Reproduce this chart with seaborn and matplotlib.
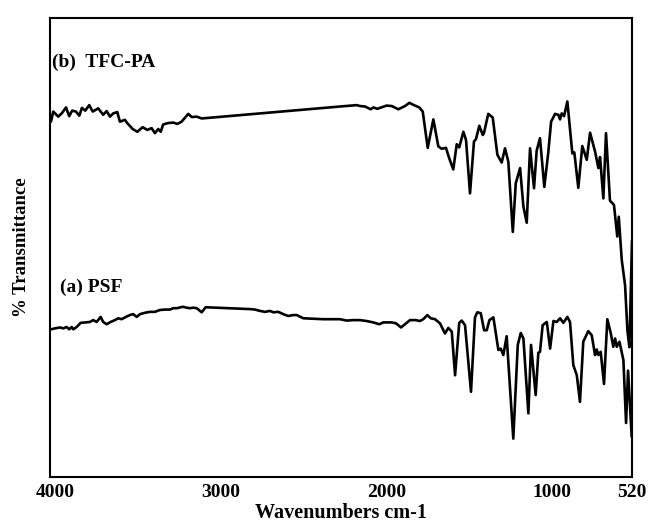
import pandas as pd
import seaborn as sns
import matplotlib
matplotlib.use("Agg")
import matplotlib.pyplot as plt

# FTIR spectra (wavenumber in cm-1, transmittance in arbitrary %)
wn_tfc = [4024, 4010, 3980, 3959, 3933, 3914, 3896, 3873, 3853, 3837,
          3817, 3793, 3772, 3739, 3709, 3688, 3668, 3648, 3624, 3608,
          3578, 3564, 3531, 3503, 3471, 3443, 3417, 3397, 3377, 3362,
          3347, 3317, 3286, 3262, 3236, 3196, 3175, 3145, 3115, 2281,
          2180, 2160, 2130, 2096, 2080, 2056, 2000, 1969, 1929, 1889,
          1863, 1835, 1803, 1782, 1752, 1718, 1688, 1668, 1642, 1622,
          1598, 1577, 1562, 1537, 1521, 1497, 1473, 1461, 1441, 1420,
          1413, 1387, 1360, 1332, 1306, 1286, 1266, 1239, 1221, 1195,
          1175, 1155, 1135, 1111, 1095, 1075, 1049, 1025, 1008, 984,
          964, 954, 944, 930, 910, 880, 868, 844, 820, 793,
          773, 743, 723, 713, 693, 677, 653, 629, 609, 600,
          582, 562, 548, 536, 520]
t_tfc = [77.4, 79.6, 78.5, 79.2, 80.5, 78.6, 79.8, 79.6, 78.7, 80.4,
         79.8, 81.0, 79.6, 80.3, 78.9, 79.7, 78.5, 79.2, 79.5, 77.4,
         77.8, 77.1, 75.8, 75.2, 76.2, 75.6, 76.0, 74.9, 75.8, 75.2,
         76.8, 77.1, 77.2, 76.9, 77.4, 79.1, 78.4, 78.5, 78.1, 80.7,
         81.0, 80.8, 80.7, 80.1, 80.5, 80.2, 80.9, 80.8, 80.1, 80.8,
         81.5, 81.0, 80.5, 79.6, 71.7, 77.9, 72.0, 71.5, 71.7, 69.4,
         67.0, 72.5, 71.8, 75.2, 73.4, 61.8, 73.1, 73.6, 76.5, 74.5,
         74.9, 79.1, 78.3, 70.2, 68.5, 71.6, 68.7, 53.4, 64.0, 67.3,
         58.9, 55.4, 71.6, 62.9, 71.1, 73.8, 63.2, 70.7, 77.4, 79.1,
         78.9, 77.9, 79.2, 78.6, 81.8, 70.5, 70.7, 63.0, 72.1, 69.1,
         75.0, 70.9, 67.3, 69.7, 60.7, 74.9, 60.2, 59.3, 52.4, 56.7,
         47.3, 41.8, 32.0, 28.3, 51.6]

wn_psf = [4024, 4000, 3970, 3950, 3929, 3914, 3899, 3889, 3869, 3845,
          3819, 3789, 3769, 3748, 3724, 3709, 3688, 3664, 3638, 3618,
          3598, 3572, 3548, 3528, 3507, 3487, 3457, 3427, 3397, 3367,
          3336, 3306, 3286, 3262, 3242, 3226, 3206, 3186, 3166, 3145,
          3115, 3091, 2824, 2794, 2763, 2733, 2703, 2683, 2653, 2623,
          2593, 2563, 2542, 2502, 2382, 2281, 2241, 2201, 2160, 2120,
          2080, 2044, 2020, 1969, 1943, 1913, 1889, 1859, 1823, 1799,
          1779, 1754, 1734, 1708, 1678, 1648, 1628, 1607, 1587, 1562,
          1547, 1527, 1491, 1467, 1453, 1432, 1412, 1396, 1380, 1356,
          1326, 1312, 1296, 1276, 1236, 1209, 1191, 1175, 1145, 1129,
          1101, 1085, 1075, 1059, 1034, 1014, 994, 974, 954, 934,
          910, 894, 874, 853, 834, 814, 784, 763, 743, 733,
          723, 709, 689, 669, 648, 633, 622, 612, 596, 572,
          556, 544, 522]
t_psf = [32.2, 32.4, 32.6, 32.4, 32.7, 32.2, 32.7, 32.2, 32.7, 33.6,
         33.7, 33.8, 34.2, 33.8, 34.9, 33.8, 33.3, 33.8, 34.2, 34.6,
         34.4, 34.9, 35.3, 35.5, 34.9, 35.5, 35.8, 36.0, 36.0, 36.4,
         36.5, 36.5, 36.8, 36.8, 37.0, 37.1, 36.9, 36.8, 36.9, 36.8,
         35.9, 37.0, 36.6, 36.5, 36.2, 36.0, 36.2, 35.9, 36.0, 35.5,
         35.1, 35.3, 35.3, 34.6, 34.4, 34.4, 34.1, 34.2, 34.2, 34.0,
         33.7, 33.3, 33.7, 33.7, 33.5, 32.6, 33.3, 34.2, 34.2, 34.0,
         34.4, 35.3, 34.6, 34.4, 33.5, 31.3, 32.5, 31.7, 22.2, 33.6,
         34.1, 33.1, 18.6, 34.8, 35.9, 35.7, 32.0, 32.0, 34.2, 34.8,
         27.7, 28.0, 26.6, 30.7, 8.4, 28.8, 31.4, 30.2, 13.9, 28.8,
         17.9, 27.1, 27.3, 33.1, 33.8, 28.0, 34.0, 33.8, 34.6, 33.6,
         34.9, 33.8, 24.4, 22.2, 16.4, 29.5, 31.8, 30.9, 26.6, 27.8,
         26.6, 27.3, 20.3, 34.4, 31.3, 28.4, 30.2, 28.4, 29.5, 25.5,
         11.8, 23.2, 8.8]

tick_pos = [4000, 3000, 2000, 1000, 520]
tick_labels = ["4000", "3000", "2000", "1000", "520"]

sns.set_style("white")
plt.rcParams["font.family"] = ["Liberation Serif", "DejaVu Serif"]
plt.rcParams["font.weight"] = "bold"
plt.rcParams["text.color"] = "black"
plt.rcParams["axes.labelcolor"] = "black"
plt.rcParams["xtick.labelcolor"] = "black"

fig, ax = plt.subplots(figsize=(6.57, 5.25), dpi=100)
fig.subplots_adjust(left=0.076, right=0.962, bottom=0.091, top=0.966)

tfc = pd.DataFrame({"wn": wn_tfc, "t": t_tfc})
psf = pd.DataFrame({"wn": wn_psf, "t": t_psf})
sns.lineplot(data=tfc, x="wn", y="t", ax=ax, color="black", lw=1.9,
             estimator=None, sort=False)
sns.lineplot(data=psf, x="wn", y="t", ax=ax, color="black", lw=1.9,
             estimator=None, sort=False)

ax.set_xlim(4030, 520)
ax.set_ylim(0, 100)
ax.set_xticks(tick_pos)
ax.set_xticklabels(tick_labels, fontsize=14, fontweight="bold", color="black")
ax.set_yticks([])
ax.tick_params(axis="x", direction="in", length=3, width=0.6,
               color="#cccccc", pad=5)
for s in ax.spines.values():
    s.set_color("black")
    s.set_linewidth(1.5)

ax.set_xlabel("Wavenumbers cm-1", fontsize=14.5, fontweight="bold",
              labelpad=1, color="black")
ax.set_ylabel("% Transmittance", fontsize=13.5, fontweight="bold",
              labelpad=14, color="black")

ax.text(4018, 90.4, "(b)  TFC-PA", fontsize=14, fontweight="bold",
        va="center", color="black")
ax.text(3970, 41.4, "(a) PSF", fontsize=14, fontweight="bold",
        va="center", color="black")

fig.savefig("out.png", dpi=100)
